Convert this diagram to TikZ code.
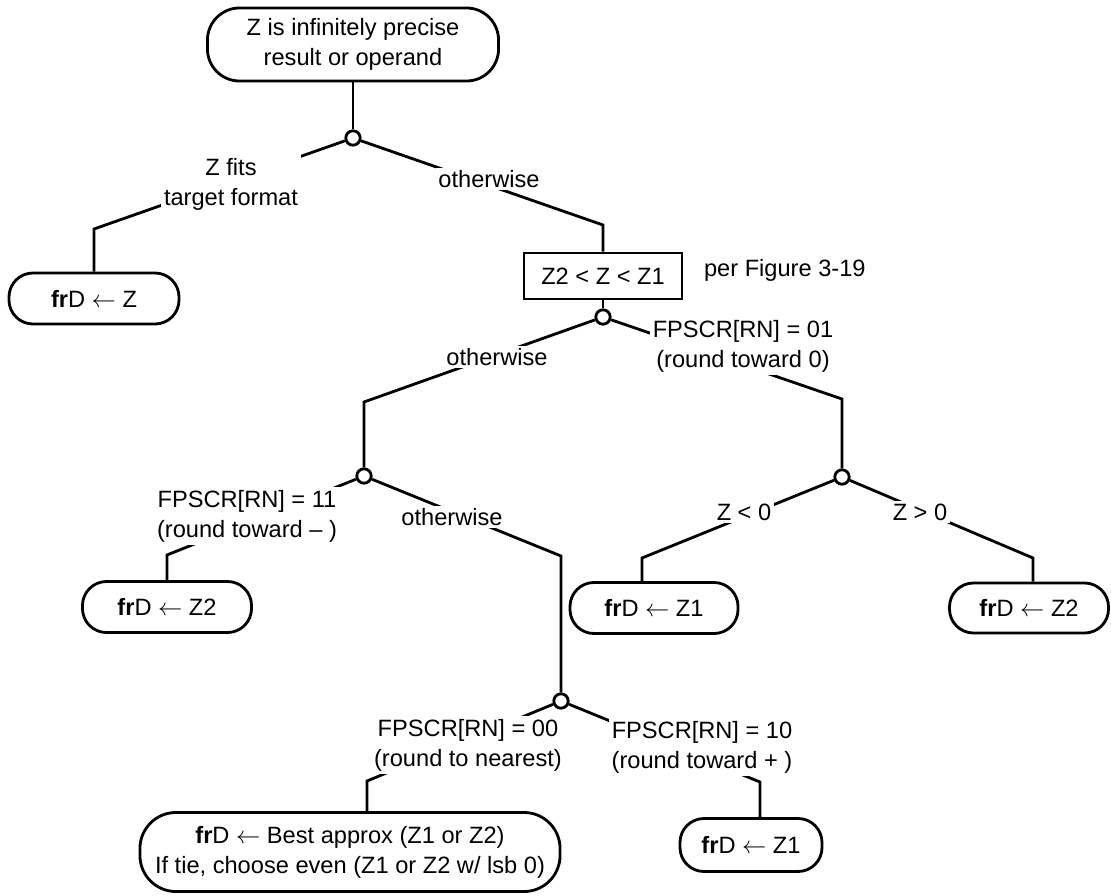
\documentclass[tikz,border=0pt]{standalone}
\usepackage{fontspec}
\setmainfont{Liberation Sans}
\usepackage{tikz}

\begin{document}
\begin{tikzpicture}[x=0.025cm, y=-0.025cm, line width=2pt, font=\fontsize{16.8}{21.3}\selectfont]
    \tikzstyle{term}=[draw, rounded corners=0.6cm, align=center, inner sep=2pt, minimum height=1.275cm]
    \tikzstyle{cond}=[draw, align=center, inner sep=2pt, minimum width=3.95cm, minimum height=1.15cm]
    \tikzstyle{dot}=[draw, circle, fill=white, minimum size=0.36cm, inner sep=0pt]
    \tikzstyle{lab}=[fill=white, align=center, inner sep=2pt]
    \useasboundingbox (0,0) rectangle (1111,895);
    \node[term, rounded corners=0.8cm, minimum width=7.275cm, minimum height=1.825cm] (top) at (353,44.5) {Z is infinitely precise\\result or operand};
    \node[term, minimum width=4.25cm] (fit) at (94,298.5) {\textbf{fr}D $\leftarrow$ Z};
    \node[cond] (rng) at (603,276) {Z2 < Z < Z1};
    \node[term, minimum width=4.225cm] (fzb) at (167,607) {\textbf{fr}D $\leftarrow$ Z2};
    \node[term, minimum width=4.2cm] (fza) at (654,608) {\textbf{fr}D $\leftarrow$ Z1};
    \node[term, minimum width=3.975cm, minimum height=1.25cm] (fzc) at (1029,608) {\textbf{fr}D $\leftarrow$ Z2};
    \node[term, rounded corners=0.9cm, minimum width=10.5cm, minimum height=1.975cm] (best) at (350,852) {\textbf{fr}D $\leftarrow$ Best approx (Z1 or Z2)\\If tie, choose even (Z1 or Z2 w/ lsb 0)};
    \node[term, minimum width=3.55cm, minimum height=1.325cm] (fzd) at (751,845) {\textbf{fr}D $\leftarrow$ Z1};
    \node[dot] (d1) at (353,138) {};
    \node[dot] (d2) at (603,317) {};
    \node[dot] (d3) at (364,476) {};
    \node[dot] (d4) at (842,477) {};
    \node[dot] (d5) at (561,701) {};
    \coordinate (k1) at (94,229);
    \coordinate (k2) at (603,225);
    \coordinate (k3) at (364,402);
    \coordinate (k4) at (842,399);
    \coordinate (k5) at (167,555);
    \coordinate (k6) at (561,556);
    \coordinate (k7) at (642,558);
    \coordinate (k8) at (1033,558);
    \coordinate (k9) at (367,781);
    \coordinate (k10) at (760,782);
    \draw (top) -- (d1);
    \draw (d1) -- (k1) -- (fit);
    \draw (d1) -- (k2) -- (rng);
    \draw (rng) -- (d2);
    \draw (d2) -- (k3) -- (d3);
    \draw (d2) -- (k4) -- (d4);
    \draw (d3) -- (k5) -- (fzb);
    \draw (d3) -- (k6) -- (d5);
    \draw (d4) -- (k7) -- (k7 |- fza.north);
    \draw (d4) -- (k8) -- (k8 |- fzc.north);
    \draw (d5) -- (k9) -- (k9 |- best.north);
    \draw (d5) -- (k10) -- (k10 |- fzd.north);
    \node[lab] (l1) at (231,184) {Z fits\\target format};
    \node[lab] (l2) at (489,179) {otherwise};
    \node[anchor=west] (fig) at (698,270) {per Figure 3-19};
    \node[lab] (l3) at (497,357) {otherwise};
    \node[lab] (l4) at (743,346) {FPSCR[RN] = 01\\(round toward 0)};
    \node[lab] (l5) at (247,516) {FPSCR[RN] = 11\\(round toward – )};
    \node[lab] (l6) at (452,517) {otherwise};
    \node[lab] (l7) at (744,512) {Z < 0};
    \node[lab] (l8) at (920,512) {Z > 0};
    \node[lab] (l9) at (468,745) {FPSCR[RN] = 00\\(round to nearest)};
    \node[lab] (l10) at (702,747) {FPSCR[RN] = 10\\(round toward + )};
  \end{tikzpicture}
\end{document}
